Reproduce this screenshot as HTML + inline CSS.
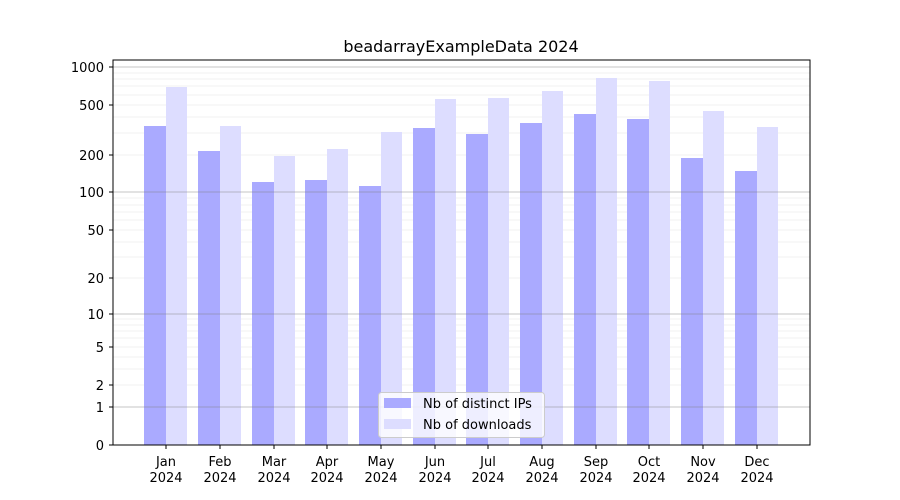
<!DOCTYPE html>
<html><head><style>body{margin:0;background:#fff}svg{display:block}text{font-family:"DejaVu Sans","Liberation Sans",sans-serif;fill:#000}</style></head>
<body>
<svg width="900" height="500" xmlns="http://www.w3.org/2000/svg">
<rect width="900" height="500" fill="#fff"/>
<g stroke="#ececec" stroke-width="0.8">
<line x1="113" x2="810" y1="385" y2="385"/><line x1="113" x2="810" y1="369" y2="369"/><line x1="113" x2="810" y1="357" y2="357"/><line x1="113" x2="810" y1="347" y2="347"/><line x1="113" x2="810" y1="338" y2="338"/><line x1="113" x2="810" y1="331" y2="331"/><line x1="113" x2="810" y1="325" y2="325"/><line x1="113" x2="810" y1="319" y2="319"/>
<line x1="113" x2="810" y1="278" y2="278"/><line x1="113" x2="810" y1="257" y2="257"/><line x1="113" x2="810" y1="242" y2="242"/><line x1="113" x2="810" y1="230" y2="230"/><line x1="113" x2="810" y1="220" y2="220"/><line x1="113" x2="810" y1="212" y2="212"/><line x1="113" x2="810" y1="205" y2="205"/><line x1="113" x2="810" y1="198" y2="198"/>
<line x1="113" x2="810" y1="155" y2="155"/><line x1="113" x2="810" y1="133" y2="133"/><line x1="113" x2="810" y1="117" y2="117"/><line x1="113" x2="810" y1="105" y2="105"/><line x1="113" x2="810" y1="95" y2="95"/><line x1="113" x2="810" y1="86" y2="86"/><line x1="113" x2="810" y1="79" y2="79"/><line x1="113" x2="810" y1="73" y2="73"/>
</g>
<g fill="#aaaaff">
<rect x="144" y="126" width="22" height="319"/><rect x="198" y="151" width="22" height="294"/><rect x="252" y="182" width="22" height="263"/><rect x="305" y="180" width="22" height="265"/><rect x="359" y="186" width="22" height="259"/><rect x="413" y="128" width="22" height="317"/><rect x="466" y="134" width="22" height="311"/><rect x="520" y="123" width="22" height="322"/><rect x="574" y="114" width="22" height="331"/><rect x="627" y="119" width="22" height="326"/><rect x="681" y="158" width="22" height="287"/><rect x="735" y="171" width="22" height="274"/>
</g>
<g fill="#ddddff">
<rect x="166" y="87" width="21" height="358"/><rect x="220" y="126" width="21" height="319"/><rect x="274" y="156" width="21" height="289"/><rect x="327" y="149" width="21" height="296"/><rect x="381" y="132" width="21" height="313"/><rect x="435" y="99" width="21" height="346"/><rect x="488" y="98" width="21" height="347"/><rect x="542" y="91" width="21" height="354"/><rect x="596" y="78" width="21" height="367"/><rect x="649" y="81" width="21" height="364"/><rect x="703" y="111" width="21" height="334"/><rect x="757" y="127" width="21" height="318"/>
</g>
<g stroke="#808080" stroke-opacity="0.45" stroke-width="1">
<line x1="113" x2="810" y1="407" y2="407"/><line x1="113" x2="810" y1="314" y2="314"/><line x1="113" x2="810" y1="192" y2="192"/><line x1="113" x2="810" y1="67" y2="67"/>
</g>
<rect x="113" y="60" width="697" height="385" fill="none" stroke="#000" stroke-width="1"/>
<g stroke="#000" stroke-width="1">
<line x1="109" x2="113" y1="445" y2="445"/><line x1="109" x2="113" y1="407" y2="407"/><line x1="109" x2="113" y1="385" y2="385"/><line x1="109" x2="113" y1="347" y2="347"/><line x1="109" x2="113" y1="314" y2="314"/><line x1="109" x2="113" y1="278" y2="278"/><line x1="109" x2="113" y1="230" y2="230"/><line x1="109" x2="113" y1="192" y2="192"/><line x1="109" x2="113" y1="155" y2="155"/><line x1="109" x2="113" y1="105" y2="105"/><line x1="109" x2="113" y1="67" y2="67"/>
<line x1="166" x2="166" y1="445" y2="449"/><line x1="220" x2="220" y1="445" y2="449"/><line x1="274" x2="274" y1="445" y2="449"/><line x1="327" x2="327" y1="445" y2="449"/><line x1="381" x2="381" y1="445" y2="449"/><line x1="435" x2="435" y1="445" y2="449"/><line x1="488" x2="488" y1="445" y2="449"/><line x1="542" x2="542" y1="445" y2="449"/><line x1="596" x2="596" y1="445" y2="449"/><line x1="649" x2="649" y1="445" y2="449"/><line x1="703" x2="703" y1="445" y2="449"/><line x1="757" x2="757" y1="445" y2="449"/>
</g>
<g font-size="13" text-anchor="end">
<text x="104" y="450">0</text><text x="104" y="412">1</text><text x="104" y="390">2</text><text x="104" y="352">5</text><text x="104" y="319">10</text><text x="104" y="283">20</text><text x="104" y="235">50</text><text x="104" y="197">100</text><text x="104" y="160">200</text><text x="104" y="110">500</text><text x="104" y="72">1000</text>
</g>
<g font-size="13" text-anchor="middle">
<text x="166" y="466">Jan</text><text x="220" y="466">Feb</text><text x="274" y="466">Mar</text><text x="327" y="466">Apr</text><text x="381" y="466">May</text><text x="435" y="466">Jun</text><text x="488" y="466">Jul</text><text x="542" y="466">Aug</text><text x="596" y="466">Sep</text><text x="649" y="466">Oct</text><text x="703" y="466">Nov</text><text x="757" y="466">Dec</text>
<text x="166" y="482">2024</text><text x="220" y="482">2024</text><text x="274" y="482">2024</text><text x="327" y="482">2024</text><text x="381" y="482">2024</text><text x="435" y="482">2024</text><text x="488" y="482">2024</text><text x="542" y="482">2024</text><text x="596" y="482">2024</text><text x="649" y="482">2024</text><text x="703" y="482">2024</text><text x="757" y="482">2024</text>
<text x="461" y="52" font-size="16">beadarrayExampleData 2024</text>
</g>
<rect x="378.5" y="392.5" width="166" height="45" rx="3" fill="#fff" fill-opacity="0.8" stroke="#cccccc"/>
<rect x="384" y="398" width="27" height="10" fill="#aaaaff"/>
<rect x="384" y="419" width="27" height="10" fill="#ddddff"/>
<g font-size="13"><text x="423" y="408">Nb of distinct IPs</text><text x="423" y="429">Nb of downloads</text></g>
</svg>
</body></html>
